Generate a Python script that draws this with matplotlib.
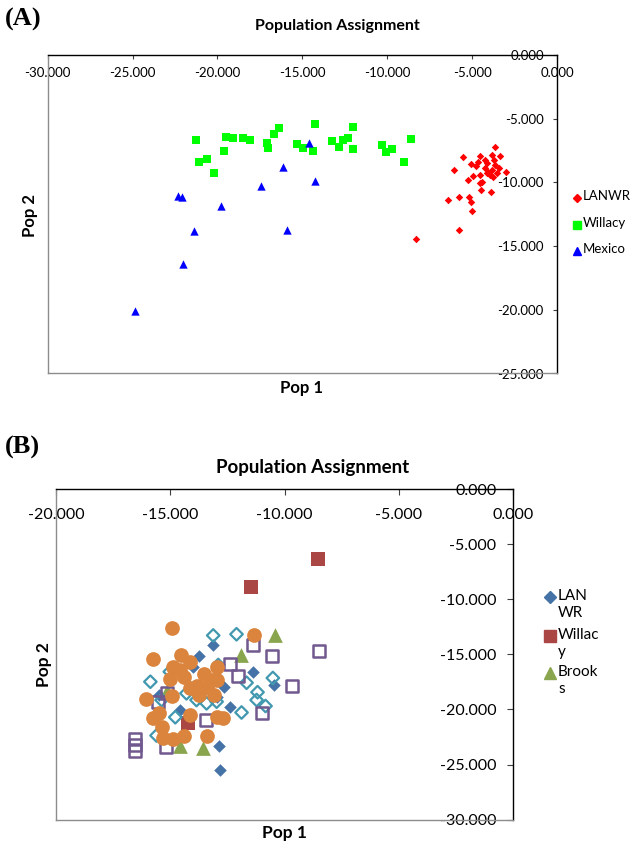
import numpy as np
import matplotlib
matplotlib.use("Agg")
import matplotlib.pyplot as plt
from matplotlib.lines import Line2D

plt.rcParams['font.family'] = ['Lato', 'DejaVu Sans']

W, H = 631, 847

# ---- Panel A data ----
lanwr_a_x = [-3.65, -5.52, -4.53, -3.85, -3.36, -5.08, -4.24, -4.63, -3.65, -6.07,
             -4.24, -4.05, -3.85, -3.55, -3.00, -4.93, -4.53, -5.22, -4.43, -3.95,
             -3.75, -4.14, -4.49, -3.89, -6.44, -5.75, -5.16, -5.08, -4.99, -5.77,
             -8.32, -4.52, -4.77, -3.42, -4.12, -3.71]
lanwr_a_y = [-7.24, -8.03, -7.93, -7.85, -7.93, -8.56, -8.24, -8.38, -8.63, -9.03,
             -8.89, -9.16, -9.03, -9.29, -9.16, -9.50, -9.42, -9.81, -9.95, -9.42,
             -9.55, -9.29, -10.60, -10.73, -11.38, -11.12, -11.17, -11.52, -12.22, -13.74,
             -14.42, -10.07, -8.71, -8.87, -8.48, -8.24]

willacy_a_x = [-21.24, -21.07, -20.61, -20.22, -19.59, -19.49, -19.10, -18.51, -18.06, -17.08,
               -17.02, -16.65, -16.37, -15.33, -14.98, -14.35, -14.23, -13.23, -12.84, -12.59,
               -12.29, -12.00, -12.00, -10.31, -10.09, -9.72, -9.01, -8.58]
willacy_a_y = [-6.67, -8.42, -8.16, -9.24, -7.54, -6.46, -6.51, -6.49, -6.67, -6.93,
               -7.28, -6.20, -5.73, -6.99, -7.28, -7.51, -5.42, -6.73, -7.24, -6.67,
               -6.49, -5.68, -7.40, -7.04, -7.61, -7.35, -8.42, -6.62]

mexico_a_x = [-24.84, -22.30, -22.08, -21.36, -22.04, -19.79, -17.43, -16.15, -15.90, -14.62, -14.25]
mexico_a_y = [-20.12, -11.04, -11.15, -13.84, -16.38, -11.88, -10.31, -8.79, -13.76, -6.88, -9.91]

ticks_a_x = [-30, -25, -20, -15, -10, -5, 0]
ticks_a_y = [0, -5, -10, -15, -20, -25]

# ---- Panel B data ----
lanwr_b_x = [-13.15, -13.73, -14.00, -11.38, -10.45, -12.64, -12.39, -14.58, -12.86, -12.83, -15.51, -12.97]
lanwr_b_y = [-14.18, -15.13, -16.18, -16.58, -17.79, -17.99, -19.81, -20.08, -23.29, -25.50, -18.65, -18.85]

willacy_b_x = [-8.52, -11.46, -14.22]
willacy_b_y = [-6.35, -8.89, -21.23]

brooks_b_x = [-10.40, -11.89, -15.16, -14.58, -13.56]
brooks_b_y = [-13.25, -15.06, -18.36, -23.32, -23.53]

open_diamond_b_x = [-13.12, -12.10, -11.66, -10.51, -11.18, -11.22, -10.83, -11.88, -12.97,
                    -12.90, -15.87, -14.78, -15.60, -13.85, -13.41, -14.29, -15.38, -15.02]
open_diamond_b_y = [-13.29, -13.18, -17.58, -17.15, -18.44, -19.15, -19.69, -20.28, -19.30,
                    -15.97, -17.49, -20.71, -22.37, -19.15, -19.45, -18.54, -19.15, -16.58]

open_square_b_x = [-11.39, -10.54, -8.48, -9.67, -12.05, -12.38, -10.99, -15.15, -15.53,
                   -13.43, -16.55, -16.55, -16.55, -15.19]
open_square_b_y = [-14.16, -15.15, -14.66, -17.88, -17.00, -15.88, -20.33, -18.47, -19.37,
                   -20.99, -22.64, -23.23, -23.77, -23.38]

circle_b_x = [-14.92, -11.33, -15.77, -14.54, -14.14, -14.89, -15.00, -14.40, -13.52, -12.95,
              -16.06, -14.91, -13.81, -14.14, -13.38, -13.09, -13.73, -15.51, -15.75, -15.34,
              -14.14, -12.96, -12.71, -15.31, -14.87, -14.40, -13.38, -14.58, -13.19, -12.97]
circle_b_y = [-12.64, -13.29, -15.43, -15.06, -15.73, -16.13, -17.24, -17.09, -16.79, -16.18,
              -19.07, -18.78, -17.88, -18.06, -17.97, -18.69, -18.69, -20.30, -20.81, -21.57,
              -20.51, -20.66, -20.75, -22.60, -22.66, -22.41, -22.41, -16.42, -17.33, -17.33]

ticks_b_x = [-20, -15, -10, -5, 0]
ticks_b_y = [0, -5, -10, -15, -20, -25, -30]


def add_axes_px(fig, left, top, right, bottom):
    return fig.add_axes([left / W, 1 - bottom / H, (right - left) / W, (bottom - top) / H])


def style_axes(ax, xt, yt, fs, xpad, ypad, tlen):
    ax.set_xlim(xt[0], xt[-1])
    ax.set_ylim(min(yt), max(yt))
    ax.xaxis.tick_top()
    ax.yaxis.tick_right()
    ax.set_xticks(xt)
    ax.set_xticklabels([f"{v:.3f}" for v in xt])
    ax.set_yticks(yt)
    ax.set_yticklabels([f"{v:.3f}" for v in yt])
    ax.tick_params(axis='x', direction='in', length=tlen, width=0.8, pad=xpad,
                   labelsize=fs, colors='#404040', labelcolor='black')
    ax.tick_params(axis='y', direction='in', length=tlen, width=0.8, pad=ypad,
                   labelsize=fs, colors='#404040', labelcolor='black')
    for lbl in ax.get_yticklabels():
        lbl.set_ha('right')
    for s in ['top', 'right']:
        ax.spines[s].set_color('black')
        ax.spines[s].set_linewidth(1.0)
    for s in ['left', 'bottom']:
        ax.spines[s].set_color('#8c8c8c')
        ax.spines[s].set_linewidth(1.0)


def legend_entry(fig, px, py, text, marker, color, ms, fs, tx):
    fig.add_artist(Line2D([px / W], [1 - py / H], marker=marker, color=color,
                          markersize=ms, linestyle='none', transform=fig.transFigure))
    fig.text(tx / W, 1 - (py - 8) / H, text, fontsize=fs, va='top', ha='left',
             linespacing=1.25)


fig = plt.figure(figsize=(W / 100, H / 100), dpi=100)

# ---------------- Panel A ----------------
axA = add_axes_px(fig, 47.6, 55, 557, 373.5)
axA.scatter(lanwr_a_x, lanwr_a_y, marker='D', s=3.8 ** 2, color='#ff0000', linewidths=0)
axA.scatter(willacy_a_x, willacy_a_y, marker='s', s=5.8 ** 2, color='#00ff00', linewidths=0)
axA.scatter(mexico_a_x, mexico_a_y, marker='^', s=6.0 ** 2, color='#0000ff', linewidths=0)
style_axes(axA, ticks_a_x, ticks_a_y, 9.5, -17.5, -9.5, 3)

fig.text(5 / W, 1 - 19 / H, "(A)", fontsize=19, fontweight='bold',
         family='Liberation Serif', va='center', ha='left')
fig.text(337 / W, 1 - 26 / H, "Population Assignment", fontsize=11.5,
         fontweight='bold', ha='center', va='center')
fig.text(30 / W, 1 - 215 / H, "Pop 2", fontsize=12, fontweight='bold',
         rotation=90, ha='center', va='center')
fig.text(301 / W, 1 - 388 / H, "Pop 1", fontsize=12, fontweight='bold',
         ha='center', va='center')

legend_entry(fig, 577, 198, "LANWR", 'D', '#ff0000', 3.8, 9.5, 583)
legend_entry(fig, 577, 225, "Willacy", 's', '#00ff00', 5.5, 9.5, 583)
legend_entry(fig, 577, 251, "Mexico", '^', '#0000ff', 5.5, 9.5, 583)

# ---------------- Panel B ----------------
axB = add_axes_px(fig, 56, 489, 513, 819.6)
axB.scatter(lanwr_b_x, lanwr_b_y, marker='D', s=6.4 ** 2, color='#4572a7', linewidths=0)
axB.scatter(willacy_b_x, willacy_b_y, marker='s', s=10.4 ** 2, color='#aa4643', linewidths=0)
axB.scatter(brooks_b_x, brooks_b_y, marker='^', s=10.6 ** 2, color='#89a54e', linewidths=0)
axB.scatter(open_diamond_b_x, open_diamond_b_y, marker='D', s=6.4 ** 2,
            facecolors='none', edgecolors='#4198af', linewidths=1.6)
axB.scatter(open_square_b_x, open_square_b_y, marker='s', s=8.6 ** 2,
            facecolors='none', edgecolors='#71588f', linewidths=1.8)
axB.scatter(circle_b_x, circle_b_y, marker='o', s=10.6 ** 2, color='#db843d', linewidths=0)
style_axes(axB, ticks_b_x, ticks_b_y, 11.5, -23.5, -12, 4.5)

fig.text(5 / W, 1 - 447 / H, "(B)", fontsize=19, fontweight='bold',
         family='Liberation Serif', va='center', ha='left')
fig.text(313 / W, 1 - 467 / H, "Population Assignment", fontsize=13.5,
         fontweight='bold', ha='center', va='center')
fig.text(44 / W, 1 - 665 / H, "Pop 2", fontsize=12.5, fontweight='bold',
         rotation=90, ha='center', va='center')
fig.text(285 / W, 1 - 833 / H, "Pop 1", fontsize=12.5, fontweight='bold',
         ha='center', va='center')

legend_entry(fig, 550, 597, "LAN\nWR", 'D', '#4572a7', 6.0, 11, 558)
legend_entry(fig, 550, 636, "Willac\ny", 's', '#aa4643', 8.0, 11, 558)
legend_entry(fig, 550, 673, "Brook\ns", '^', '#89a54e', 9.0, 11, 558)

fig.savefig("out.png", dpi=100)
